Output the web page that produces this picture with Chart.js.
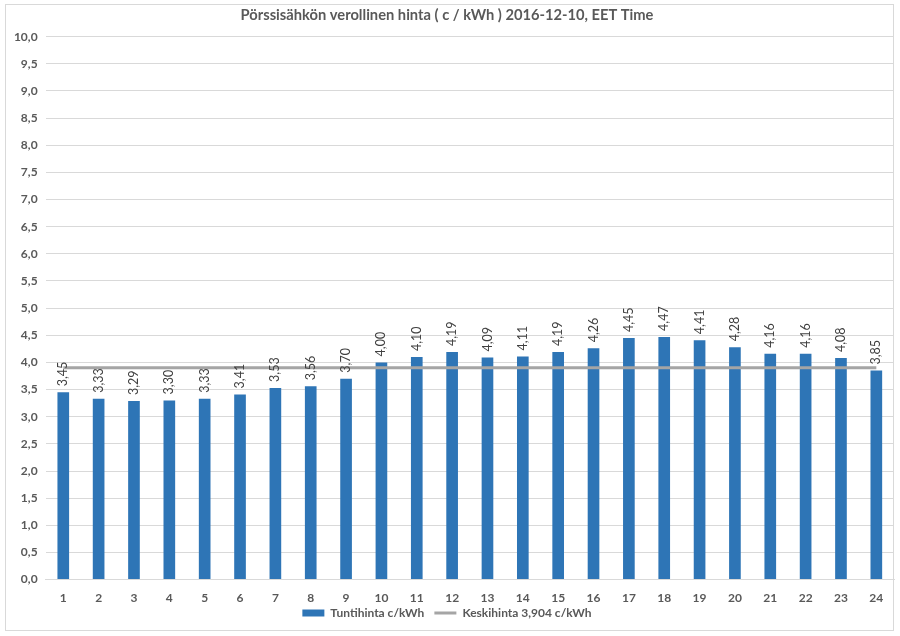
<!DOCTYPE html>
<html>
<head>
<meta charset="utf-8">
<script src="https://cdn.jsdelivr.net/npm/chart.js@4/dist/chart.umd.min.js"></script>
<style>
  html, body { margin: 0; padding: 0; background: #fff; }
  #wrap { position: relative; width: 900px; height: 636px; }
  #frame { position: absolute; left: 5px; top: 4px; width: 889px; height: 627px; border: 1px solid #D9D9D9; box-sizing: border-box; pointer-events: none; }
</style>
</head>
<body>
<div id="wrap">
  <canvas id="c" width="900" height="636"></canvas>
  <div id="frame"></div>
</div>
<script>
const titleText = 'Pörssisähkön verollinen hinta ( c / kWh ) 2016-12-10, EET Time';
const hours = ['1','2','3','4','5','6','7','8','9','10','11','12','13','14','15','16','17','18','19','20','21','22','23','24'];
const hourlyPrice = [3.45, 3.33, 3.29, 3.30, 3.33, 3.41, 3.53, 3.56, 3.70, 4.00, 4.10, 4.19, 4.09, 4.11, 4.19, 4.26, 4.45, 4.47, 4.41, 4.28, 4.16, 4.16, 4.08, 3.85];
const averagePrice = [3.904, 3.904, 3.904, 3.904, 3.904, 3.904, 3.904, 3.904, 3.904, 3.904, 3.904, 3.904, 3.904, 3.904, 3.904, 3.904, 3.904, 3.904, 3.904, 3.904, 3.904, 3.904, 3.904, 3.904];
const barLabel = 'Tuntihinta c/kWh';
const lineLabel = 'Keskihinta 3,904 c/kWh';
const yMin = 0, yMax = 10, yStep = 0.5;

const FONT = 'Lato, "Open Sans", sans-serif';
const fmt = (v, d) => v.toFixed(d).replace('.', ',');

const barValueLabels = {
  id: 'barValueLabels',
  afterDatasetsDraw(chart) {
    const meta = chart.getDatasetMeta(0);
    const ctx = chart.ctx;
    ctx.save();
    ctx.fillStyle = '#404040';
    ctx.font = '12.5px ' + FONT;
    ctx.textAlign = 'left';
    ctx.textBaseline = 'middle';
    meta.data.forEach((el, i) => {
      ctx.save();
      ctx.translate(el.x, el.y - 6);
      ctx.rotate(-Math.PI / 2);
      ctx.fillText(fmt(hourlyPrice[i], 2), 0, 0);
      ctx.restore();
    });
    ctx.restore();
  }
};

// place the legend just under the category labels
const legendNudge = {
  id: 'legendNudge',
  afterLayout(chart) {
    const lg = chart.legend;
    if (!lg) return;
    lg.top = 597;
    lg.bottom = 636;
    lg.height = lg.bottom - lg.top;
  }
};

new Chart(document.getElementById('c'), {
  data: {
    labels: hours,
    datasets: [
      {
        type: 'bar',
        label: barLabel,
        data: hourlyPrice,
        backgroundColor: '#2E75B6',
        borderWidth: 0,
        barPercentage: 0.33,
        categoryPercentage: 1.0,
        pointStyle: 'rect',
        order: 2
      },
      {
        type: 'line',
        label: lineLabel,
        data: averagePrice,
        borderColor: '#A5A5A5',
        backgroundColor: '#A5A5A5',
        borderWidth: 3,
        pointRadius: 0,
        pointStyle: 'line',
        fill: false,
        order: 1
      }
    ]
  },
  options: {
    responsive: false,
    animation: false,
    layout: { padding: { left: 0, right: 6, top: 0, bottom: -12 } },
    plugins: {
      title: {
        display: true,
        text: titleText,
        color: '#595959',
        font: { family: FONT, size: 14.7, weight: 'bold' },
        padding: { top: 6, bottom: 13 }
      },
      legend: {
        display: true,
        position: 'bottom',
        labels: {
          usePointStyle: true,
          pointStyleWidth: 22,
          boxHeight: 7,
          color: '#595959',
          font: { family: FONT, size: 12, weight: 'bold' },
          padding: 10,
          sort: (a, b) => a.datasetIndex - b.datasetIndex
        }
      },
      tooltip: { enabled: false }
    },
    scales: {
      x: {
        grid: { display: false, drawTicks: false },
        border: { display: true, color: '#D9D9D9' },
        ticks: {
          color: '#595959',
          font: { family: FONT, size: 12, weight: 'bold' },
          padding: 11,
          maxRotation: 0,
          autoSkip: false
        }
      },
      y: {
        min: yMin,
        max: yMax,
        grid: { color: '#D9D9D9', drawTicks: false },
        border: { display: false },
        afterFit(scale) { scale.width = 45.6; },
        ticks: {
          stepSize: yStep,
          color: '#595959',
          font: { family: FONT, size: 12, weight: 'bold' },
          padding: 8,
          callback: (v) => fmt(v, 1)
        }
      }
    }
  },
  plugins: [barValueLabels, legendNudge]
});
</script>
</body>
</html>
